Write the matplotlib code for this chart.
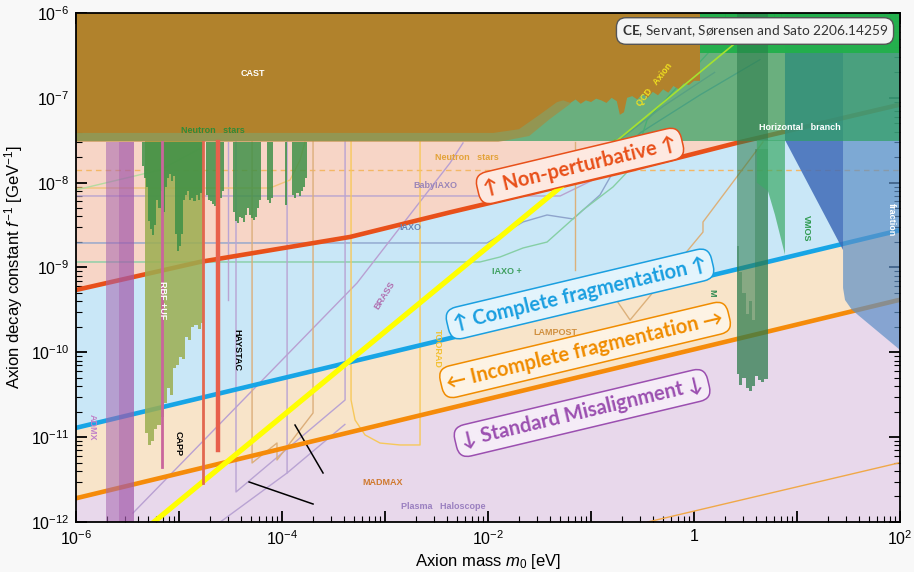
import numpy as np
import matplotlib.pyplot as plt
from matplotlib.ticker import LogLocator, NullFormatter

plt.rcParams['font.family'] = ['Liberation Sans', 'DejaVu Sans']
plt.rcParams['mathtext.fontset'] = 'custom'
plt.rcParams['mathtext.rm'] = 'Liberation Sans'
plt.rcParams['mathtext.it'] = 'Liberation Sans:italic'
plt.rcParams['mathtext.bf'] = 'Lato:bold'

# all values are log10: axion mass m0 [eV] and f^-1 [GeV^-1]

# regime boundaries
orange_lm = [-6, 2]
orange_lf = [-11.72, -9.38]
blue_lm = [-6, 2]
blue_lf = [-10.89, -8.56]
red_lm = [-6, -4.8, -3.34, -2.37, -0.62, 0.42, 2]
red_lf = [-9.265, -8.935, -8.64, -8.35, -7.85, -7.53, -7.08]

# QCD axion band: f^-1 = m0 * 1e-12 / 5.7e-6
qcd_lm = [-5.3, -0.77]
qcd_thin_lm = [-0.77, 0.6]
qcd_offset = np.log10(1e-12 / 5.7e-6)

# helioscope / astro bounds at the top
cast_bottom_lm = [-6, -1.95, -1.70, -1.50, -1.33, -1.27, -1.2, -1.15, -1.1, -1.05, -1.0, -0.95,
                  -0.9, -0.85, -0.8, -0.75, -0.72, -0.68, -0.65, -0.6, -0.55, -0.5, -0.45, -0.4,
                  -0.35, -0.3, -0.25, -0.2, -0.15, -0.1, -0.05, 0.0, 0.058]
cast_bottom_lf = [-7.414, -7.414, -7.37, -7.2, -7.05, -7.03, -7.06, -7.02, -7.07, -7.03, -7.05,
                  -7.01, -7.03, -7.06, -7.0, -7.04, -7.2, -7.17, -7.0, -6.98, -7.02, -6.95, -7.0,
                  -6.93, -6.97, -6.9, -6.94, -6.86, -6.9, -6.83, -6.85, -6.8, -6.8]
ns_band_lm = [-6, -1.9, -1.6, -1.4, -1.2]
ns_band_lf = [-7.52, -7.52, -7.45, -7.25, -7.07]
top_bound_lf = -7.51
top_strip_lm = [0.058, 2]
top_strip_lf = [-6.47, -6]

# haloscope exclusions hanging below the top bounds (step edges, bottoms)
halo_lm = [-5.36, -5.34, -5.32, -5.30, -5.28, -5.26, -5.24, -5.22, -5.20, -5.18, -5.16, -5.14,
           -5.12, -5.10, -5.08, -5.06, -5.04, -5.02, -5.00, -4.98, -4.96, -4.94, -4.92, -4.90,
           -4.88, -4.86, -4.84, -4.82, -4.80, -4.78, -4.76, -4.74, -4.72, -4.70, -4.68, -4.66,
           -4.64, -4.62, -4.60, -4.58, -4.56, -4.48, -4.46, -4.44, -4.42, -4.40, -4.38, -4.36,
           -4.34, -4.32, -4.30, -4.28, -4.26, -4.24, -4.22, -4.20, -4.15, -4.13, -4.11, -4.09,
           -3.97, -3.95, -3.90, -3.88, -3.86, -3.84, -3.82, -3.80, -3.78, -3.76]
halo_lf = [-7.80, -7.95, -8.05, -8.45, -8.55, -8.62, -8.50, -8.20, -8.30, -8.10, -8.35, -8.05,
           -7.95, -7.90, -7.98, -7.92, -8.60, -8.80, -8.75, -8.60, -8.20, -8.15, -8.10, -8.20,
           -8.18, -8.22, -8.15, -8.20, -8.12, -8.18, -7.52, -8.15, -8.20, -8.22, -8.25, -8.27,
           -8.20, -8.25, -8.18, -8.10, -7.52, -8.35, -8.45, -8.47, -8.40, -8.42, -8.46, -8.38,
           -8.30, -8.38, -8.42, -8.44, -8.40, -8.30, -8.20, -7.52, -8.20, -8.24, -8.18, -7.52,
           -8.26, -7.52, -8.15, -8.18, -8.12, -8.16, -8.10, -8.05, -7.95, -7.52]
rbf_lm = [-5.33, -5.30, -5.27, -5.24, -5.21, -5.18, -5.15, -5.12, -5.09, -5.06, -5.03, -5.00,
          -4.97, -4.94, -4.91, -4.88, -4.85, -4.82, -4.79, -4.77]
rbf_lf = [-10.95, -11.09, -11.05, -10.90, -10.86, -10.76, -10.60, -10.42, -10.50, -10.18,
          -10.15, -10.05, -10.08, -9.82, -9.85, -9.70, -9.68, -9.72, -9.66, -9.66]
admx_lm = [-5.709, -5.437]
admx_core_lm = [-5.58, -5.44]
capp_lines = [(-5.165, -11.35, '#c9659c', 2.0),
              (-4.767, -11.54, '#e2674f', 2.0),
              (-4.621, -11.15, '#e8604c', 3.2)]

# projected sensitivities (thin outlines)
iaxo_lm = [-6, -2.01, -1.66, -1.427, -1.175, -0.913, -0.786, -0.786, -0.524, 0.058, 0.64]
iaxo_lf = [-8.711, -8.711, -8.463, -8.381, -8.428, -8.145, -7.874, -7.733, -7.414, -6.966, -6.55]
iaxo_plus_lm = [-6, -2.078, -1.883, -1.66, -1.427, -1.078, -0.786, -0.602, -0.456, 0.252]
iaxo_plus_lf = [-8.935, -8.935, -8.876, -8.77, -8.70, -8.322, -8.05, -7.815, -7.261, -6.318]
babyiaxo_lm = [-6, -1.3, -0.95, -0.75, -0.3, 0.2]
babyiaxo_lf = [-8.157, -8.157, -7.95, -7.52, -7.1, -6.7]
ns_dashed_lf = -7.851
brass_lm = [-5.447, -3.272, -2.369, -2.243]
brass_lf = [-11.894, -9.183, -7.768, -7.532]
haystac_a_lm = [-4.447, -4.447, -3.388, -3.388]
haystac_a_lf = [-7.52, -11.646, -10.562, -7.52]
haystac_b_lm = [-3.951, -3.951, -3.39]
haystac_b_lf = [-7.52, -11.422, -10.85]
haystac_c_lm = [-4.60, -3.951]
haystac_c_lf = [-12.0, -11.422]
capp_proj_lm = [-4.291, -4.291, -4.049, -4.049, -3.699, -3.699]
capp_proj_lf = [-7.52, -11.304, -11.069, -11.269, -10.715, -7.52]
thin_purple_lm = [-4.524, -4.524]
thin_purple_lf = [-7.52, -9.38]
toorad_lm = [-3.33, -3.33, -3.291, -3.194, -3.049, -2.854, -2.66, -2.66]
toorad_lf = [-7.52, -10.562, -10.798, -10.974, -11.069, -11.092, -11.092, -7.52]
lampost_lm = [0.67, 0.087, 0.087, -0.621, -0.767]
lampost_lf = [-7.52, -8.464, -8.582, -9.619, -9.36]
tan_vert_lm = [-1.155, -1.155]
tan_vert_lf = [-7.52, -9.029]
alpha_orange_lm = [-6, -4.117, -3.922, -3.825, -3.777]
alpha_orange_lf = [-8.063, -8.063, -7.968, -7.733, -7.52]
alpha_green_lm = [-6, -5.184, -4.8]
alpha_green_lf = [-8.086, -7.85, -7.6]
madmax_tail_lm = [-0.45, 2]
madmax_tail_lf = [-12.0, -11.30]
black_a_lm = [-3.874, -3.602]
black_a_lf = [-10.857, -11.422]
black_b_lm = [-4.320, -3.699]
black_b_lf = [-11.528, -11.788]

# right-hand side bounds
hb_lm = [0.883, 0.883, 1.447, 1.447]
hb_lf = [-6, -7.497, -8.794, -6]
frac_lm = [1.447, 1.447, 1.466, 1.534, 2, 2]
frac_lf = [-6, -9.241, -9.383, -9.501, -9.972, -6]
telescope_lm = [0.417, 0.44, 0.47, 0.50, 0.53, 0.56, 0.59, 0.62, 0.65, 0.68, 0.718]
telescope_lf = [-10.25, -10.38, -10.30, -10.42, -10.45, -10.40, -10.28, -10.33, -10.35, -10.31, -10.31]
telescope_top_lf = [-8.75, -9.05, -9.30, -9.55, -9.40, -9.62, -7.6, -7.6, -7.6, -7.6, -7.6]
vmos_lm = [0.61, 0.61, 0.718, 0.786, 0.883, 0.883]
vmos_lf = [-7.5, -8.0, -8.1, -8.38, -8.85, -7.5]


def p(v):
    return 10.0 ** np.asarray(v, dtype=float)


fig = plt.figure(figsize=(9.14, 5.72), dpi=100, facecolor='#f8f8f8')
ax = fig.add_axes([0.0832, 0.0874, 0.9015, 0.8899])
ax.set_xscale('log')
ax.set_yscale('log')
ax.set_xlim(1e-6, 1e2)
ax.set_ylim(1e-12, 1e-6)

# regime bands
ax.fill(p(orange_lm + orange_lm[::-1]), p(orange_lf + [-12, -12]), color='#e8d8eb', lw=0, zorder=1)
ax.fill(p(orange_lm + blue_lm[::-1]), p(orange_lf + blue_lf[::-1]), color='#f8e4c9', lw=0, zorder=1)
ax.fill(p(blue_lm + red_lm[::-1]), p(blue_lf + red_lf[::-1]), color='#c9e7f7', lw=0, zorder=1)
ax.fill(p(red_lm + [2, -6]), p(red_lf + [-6, -6]), color='#f7d5c6', lw=0, zorder=1)

# thin projection outlines
thin = dict(lw=1.0, zorder=2)
ax.plot(p(iaxo_lm), p(iaxo_lf), color='#8ea4cc', **thin)
ax.plot(p(iaxo_plus_lm), p(iaxo_plus_lf), color='#86cfa5', **thin)
ax.plot(p(babyiaxo_lm), p(babyiaxo_lf), color='#b8a4d0', **thin)
ax.plot(p([-6, 2]), p([ns_dashed_lf] * 2), color='#f3b766', ls=(0, (4, 3)), **thin)
ax.plot(p(brass_lm), p(brass_lf), color='#b9a0d2', **thin)
for lm, lf in [(haystac_a_lm, haystac_a_lf), (haystac_b_lm, haystac_b_lf),
               (haystac_c_lm, haystac_c_lf), (thin_purple_lm, thin_purple_lf)]:
    ax.plot(p(lm), p(lf), color='#b9a3d3', **thin)
ax.plot(p(capp_proj_lm), p(capp_proj_lf), color='#dcae7a', **thin)
ax.plot(p(toorad_lm), p(toorad_lf), color='#f7c85a', **thin)
ax.plot(p(lampost_lm), p(lampost_lf), color='#dcb07a', **thin)
ax.plot(p(tan_vert_lm), p(tan_vert_lf), color='#dcb07a', **thin)
ax.plot(p(alpha_orange_lm), p(alpha_orange_lf), color='#f2c27a', **thin)
ax.plot(p(alpha_green_lm), p(alpha_green_lf), color='#b5dba0', **thin)
ax.plot(p(madmax_tail_lm), p(madmax_tail_lf), color='#f0a848', **thin)
ax.plot(p(black_a_lm), p(black_a_lf), color='black', lw=1.1, zorder=2)
ax.plot(p(black_b_lm), p(black_b_lf), color='black', lw=1.1, zorder=2)

# regime boundaries and QCD axion
ax.plot(p(orange_lm), p(orange_lf), color='#f58b0a', lw=3.3, zorder=3)
ax.plot(p(blue_lm), p(blue_lf), color='#17a5e6', lw=3.3, zorder=3)
ax.plot(p(red_lm), p(red_lf), color='#e8501a', lw=3.3, zorder=3)
ax.plot(p(qcd_lm), p(np.array(qcd_lm) + qcd_offset), color='#ffff00', lw=3.8, zorder=3.2)
ax.plot(p(qcd_thin_lm), p(np.array(qcd_thin_lm) + qcd_offset), color='#a6e22e', lw=1.2, zorder=4.6)

# haloscope exclusions on the left
ax.fill_between(p(rbf_lm), p(rbf_lf), p(top_bound_lf), step='post', color='#9cae50',
                alpha=0.85, lw=0, zorder=4.0)
ax.fill_between(p(halo_lm), p(halo_lf), p(-7.52), step='post', color='#3a8f45',
                alpha=0.82, lw=0, zorder=4.05)
ax.fill_between(p(admx_lm), p(-12), p(-7.52), color='#a564b0', alpha=0.55, lw=0, zorder=4.1)
ax.fill_between(p(admx_core_lm), p(-12), p(-7.52), color='#a04fa6', alpha=0.35, lw=0, zorder=4.1)
for lm, lf, col, lw in capp_lines:
    ax.plot(p([lm, lm]), p([-7.52, lf]), color=col, lw=lw, zorder=4.5)

# right-hand bounds
ax.fill(p(frac_lm), p(frac_lf), color='#5d8fc6', alpha=0.7, lw=0, zorder=4.0)
ax.fill(p(hb_lm), p(hb_lf), color='#3f6bb8', alpha=0.85, lw=0, zorder=4.0)
ax.fill_between(p([-6, 2]), p(top_bound_lf), p(-6), color='#2fa060', alpha=0.7, lw=0, zorder=4.1)
ax.fill(p(ns_band_lm + [-1.2, -6]), p(ns_band_lf + [-6, -6]), color='#b5832e', alpha=0.55,
        lw=0, zorder=4.2)
ax.fill(p(cast_bottom_lm + [0.058, -6]), p(cast_bottom_lf + [-6, -6]), color='#b1822c',
        lw=0, zorder=4.3)
ax.fill_between(p(top_strip_lm), p(top_strip_lf[0]), p(top_strip_lf[1]), color='#22b04b',
                alpha=0.95, lw=0, zorder=4.35)
ax.fill_between(p(telescope_lm), p(telescope_lf), p(-6), step='post', color='#2a7a4a',
                alpha=0.55, lw=0, zorder=4.4)
ax.fill_between(p(telescope_lm), p(telescope_lf), p(telescope_top_lf), step='post',
                color='#2a7a4a', alpha=0.4, lw=0, zorder=4.4)
ax.fill(p(vmos_lm), p(vmos_lf), color='#3caa68', alpha=0.7, lw=0, zorder=4.45)

# experiment labels
small = dict(fontsize=6.5, fontweight='bold', ha='center', va='center',
             rotation_mode='anchor', zorder=6)
labels = [
    ('CAST', -4.282, -6.719, 'white', 0),
    ('Neutron   stars', -4.67, -7.391, '#2e8b3a', 0),
    ('Neutron   stars', -2.204, -7.709, '#e3a238', 0),
    ('BabyIAXO', -2.515, -8.039, '#9a85b8', 0),
    ('IAXO', -2.757, -8.534, '#6a86b8', 0),
    ('IAXO +', -1.816, -9.053, '#3fa060', 0),
    ('BRASS', -3.0, -9.324, '#b070b0', 58),
    ('HAYSTAC', -4.437, -9.972, 'black', 270),
    ('CAPP', -5.01, -11.069, 'black', 270),
    ('RBF +UF', -5.165, -9.383, 'white', 270),
    ('ADMX', -5.845, -10.88, '#c080c8', 270),
    ('TOORAD', -2.495, -9.95, '#f3c030', 270),
    ('MADMAX', -3.019, -11.54, '#d07a30', 0),
    ('Plasma   Haloscope', -2.437, -11.823, '#9a80c0', 0),
    ('LAMPOST', -1.35, -9.772, '#d09040', 0),
    ('QCD   Axion', -0.379, -6.849, '#f0e020', 52),
    ('Horizontal   branch', 1.029, -7.355, 'white', 0),
    ('VMOS', 1.087, -8.534, '#2e9a50', 270),
    ('fraction', 1.913, -8.44, 'white', 270),
    ('M', 0.175, -9.3, '#2e8a50', 270),
]
for txt, lm, lf, col, rot in labels:
    ax.text(p(lm), p(lf), txt, color=col, rotation=rot, **small)

# regime labels
regimes = [
    ('\u2191 Non-perturbative \u2191', -1.107, -7.803, '#e8501a', '#fde9e1'),
    ('\u2191 Complete fragmentation \u2191', -1.107, -9.312, '#1a9fe0', '#e3f4fc'),
    ('\u2190 Incomplete fragmentation \u2192', -1.058, -9.972, '#f08c00', '#fdf3e4'),
    ('\u2193 Standard Misalignment \u2193', -1.087, -10.715, '#9b4fb0', '#f5ecf7'),
]
for txt, lm, lf, col, face in regimes:
    ax.text(p(lm), p(lf), txt, color=col, fontsize=14.5, fontweight='bold',
            family=['Lato', 'DejaVu Sans'], rotation=13.4, rotation_mode='anchor',
            ha='center', va='center', zorder=7,
            bbox=dict(boxstyle='round,pad=0.3,rounding_size=0.6', fc=face, ec=col, lw=1.1))

ax.text(0.824, 0.9646, '$\\mathbf{CE}$, Servant, S\u00f8rensen and Sato 2206.14259',
        transform=ax.transAxes, fontsize=9.8, family=['Lato', 'DejaVu Sans'], color='#333333',
        ha='center', va='center', zorder=8,
        bbox=dict(boxstyle='round,pad=0.4,rounding_size=0.7', fc='#f4f4f4', ec='#555555', lw=1))

# axes styling
ax.set_xticks(p(range(-6, 3)))
ax.set_xticklabels(['$10^{-6}$', '', '$10^{-4}$', '', '$10^{-2}$', '', '1', '', '$10^{2}$'])
ax.set_yticks(p(range(-12, -5)))
ax.set_yticklabels(['$10^{-%d}$' % k for k in range(12, 5, -1)])
for axis in (ax.xaxis, ax.yaxis):
    axis.set_minor_locator(LogLocator(base=10, subs=np.arange(2, 10), numticks=100))
    axis.set_minor_formatter(NullFormatter())
ax.tick_params(which='both', direction='in', top=True, right=True, colors='black')
ax.tick_params(which='major', length=8, width=1.3, labelsize=11.5, pad=5)
ax.tick_params(which='minor', length=4, width=0.8)
for s in ax.spines.values():
    s.set_linewidth(1.3)
    s.set_zorder(10)
ax.set_xlabel('Axion mass $m_0$ [eV]', fontsize=12, labelpad=3)
ax.set_ylabel('Axion decay constant $f^{-1}$ [GeV$^{-1}$]', fontsize=12, labelpad=4)

fig.savefig('out.png', dpi=100, facecolor=fig.get_facecolor())
